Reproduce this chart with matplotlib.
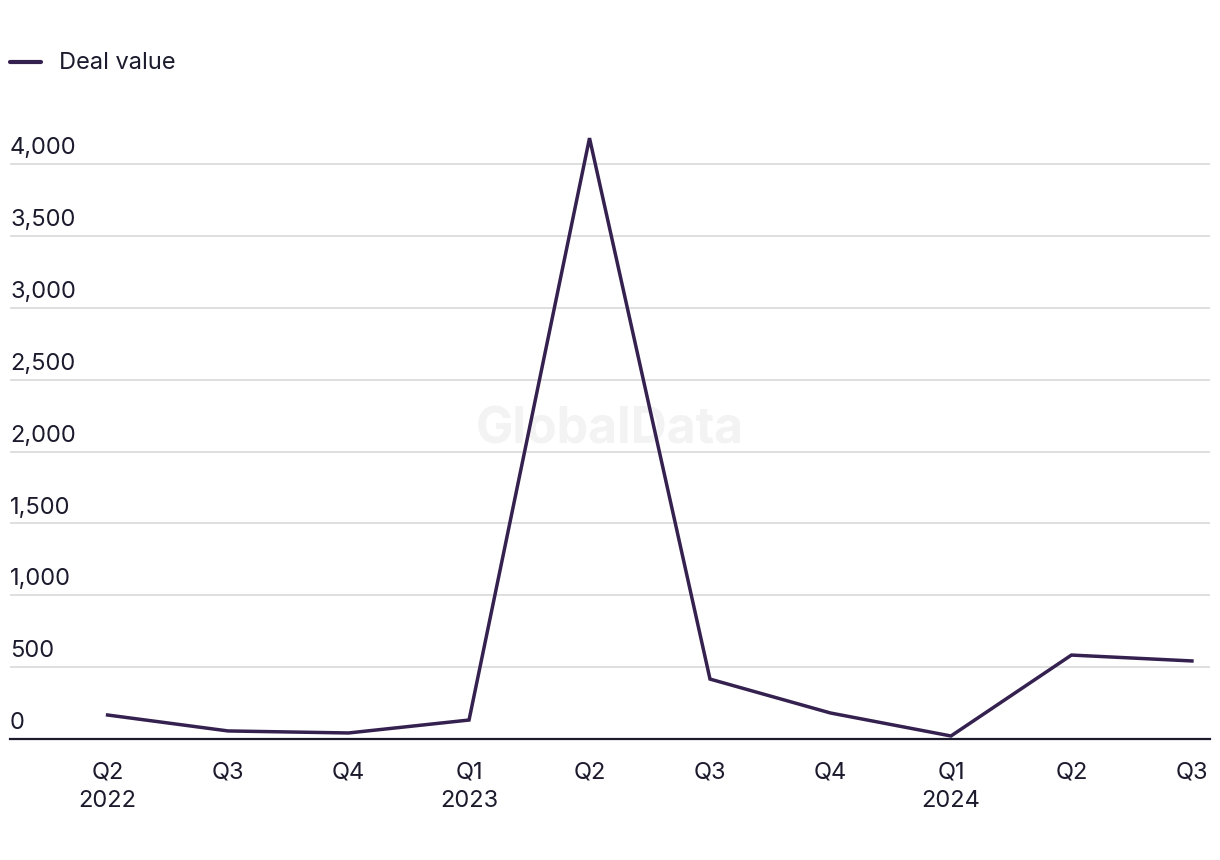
import matplotlib.pyplot as plt
import matplotlib.transforms as mtransforms

quarters = ["Q2\n2022", "Q3", "Q4", "Q1\n2023", "Q2", "Q3", "Q4", "Q1\n2024", "Q2", "Q3"]
deal_value = [167, 56, 42, 132, 4181, 417, 181, 21, 584, 543]
y_ticks = [0, 500, 1000, 1500, 2000, 2500, 3000, 3500, 4000]

line_color = "#35214f"
text_color = "#1c1b2e"
grid_color = "#d9d9d9"

plt.rcParams["font.family"] = ["Inter", "DejaVu Sans"]

fig = plt.figure(figsize=(12.2, 8.6), dpi=100)
ax = fig.add_axes([10 / 1220, 1 - 739 / 860, 1200 / 1220, 618 / 860])

x = list(range(len(deal_value)))
ax.plot(x, deal_value, color=line_color, lw=2.5, solid_joinstyle="miter", zorder=3)

ax.set_xlim(-0.81, 9.15)
ax.set_ylim(0, 4300)

# gridlines + labels sitting above them
trans = mtransforms.blended_transform_factory(ax.transAxes, ax.transData)
for v in y_ticks:
    if v > 0:
        ax.axhline(v, color=grid_color, lw=1.2, zorder=1)
    ax.annotate(f"{v:,}", xy=(0, v), xycoords=trans, xytext=(0, 3.5),
                textcoords="offset points", ha="left", va="bottom",
                fontsize=17, color=text_color)
ax.set_yticks([])

for s in ["top", "right", "left"]:
    ax.spines[s].set_visible(False)
ax.spines["bottom"].set_color(text_color)
ax.spines["bottom"].set_linewidth(1.6)

ax.set_xticks(x)
ax.set_xticklabels(quarters, fontsize=17, color=text_color, linespacing=1.4)
ax.tick_params(axis="x", length=0, pad=16)

# watermark
ax.text(0.5, 0.5, "GlobalData", transform=ax.transAxes, ha="center", va="center",
        fontsize=36, fontweight="bold", color="#f3f3f3", zorder=0)

# legend
fig.lines.append(plt.Line2D([10 / 1220, 41 / 1220], [1 - 62 / 860] * 2,
                            transform=fig.transFigure, color=line_color, lw=3,
                            solid_capstyle="round"))
fig.text(59 / 1220, 1 - 63 / 860, "Deal value", ha="left", va="center",
         fontsize=17, color=text_color)

fig.savefig("out.png", dpi=100)
